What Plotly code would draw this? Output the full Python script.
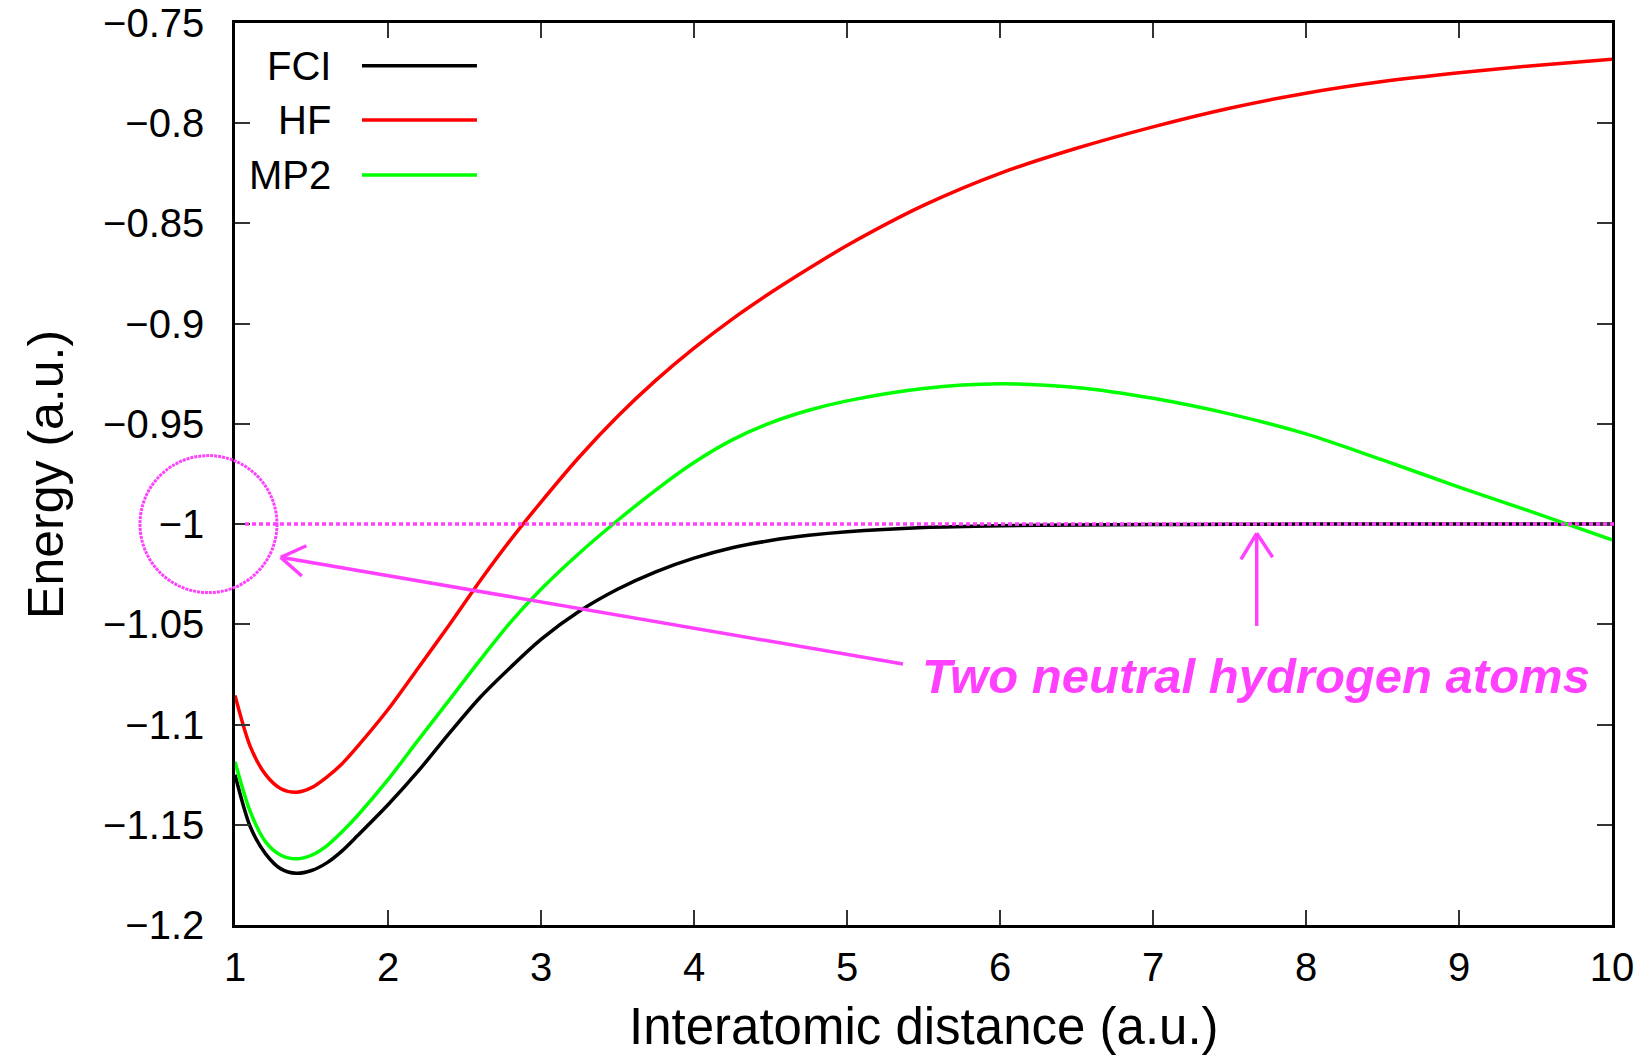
import plotly.graph_objects as go

# ---------------- data ----------------
distance = [1.0, 1.1, 1.2, 1.3, 1.4, 1.5, 1.6, 1.7, 1.8, 2.0, 2.2, 2.4, 2.6, 2.8, 3.0,
            3.25, 3.5, 3.75, 4.0, 4.25, 4.5, 4.75, 5.0, 5.5, 6.0, 6.5, 7.0, 7.5, 8.0,
            8.5, 9.0, 9.5, 10.0]

fci = [-1.1250, -1.1510, -1.1645, -1.1720, -1.1742, -1.1728, -1.1690, -1.1630, -1.1555,
       -1.1400, -1.1230, -1.1044, -1.0866, -1.0715, -1.0575, -1.0435, -1.0325, -1.0238,
       -1.0170, -1.0118, -1.0082, -1.0056, -1.0038, -1.0017, -1.0008, -1.0004, -1.0002,
       -1.0001, -1.0000, -1.0000, -1.0000, -1.0000, -1.0000]

hf = [-1.0855, -1.1110, -1.1250, -1.1320, -1.1338, -1.1315, -1.1262, -1.1195, -1.1110,
      -1.0925, -1.0715, -1.0503, -1.0285, -1.0080, -0.9890, -0.9665, -0.9463, -0.9283,
      -0.9122, -0.8977, -0.8846, -0.8725, -0.8610, -0.8410, -0.8250, -0.8125, -0.8018,
      -0.7925, -0.7850, -0.7792, -0.7748, -0.7712, -0.7681]

mp2 = [-1.1185, -1.1435, -1.1585, -1.1652, -1.1670, -1.1652, -1.1605, -1.1535, -1.1455,
       -1.1275, -1.1075, -1.0878, -1.0680, -1.0490, -1.0325, -1.0145, -0.9982, -0.9830,
       -0.9693, -0.9580, -0.9495, -0.9432, -0.9385, -0.9323, -0.9300, -0.9318, -0.9372,
       -0.9450, -0.9550, -0.9680, -0.9815, -0.9945, -1.0078]

series_names = ["FCI", "HF", "MP2"]
series_values = [fci, hf, mp2]
series_colors = ["#000000", "#ff0000", "#00ff00"]

x_tick_vals = [1, 2, 3, 4, 5, 6, 7, 8, 9, 10]
x_tick_text = ["1", "2", "3", "4", "5", "6", "7", "8", "9", "10"]
y_tick_vals = [-1.2, -1.15, -1.1, -1.05, -1.0, -0.95, -0.9, -0.85, -0.8, -0.75]
y_tick_text = ["\u22121.2", "\u22121.15", "\u22121.1", "\u22121.05", "\u22121",
               "\u22120.95", "\u22120.9", "\u22120.85", "\u22120.8", "\u22120.75"]

x_title = "Interatomic distance (a.u.)"
y_title = "Energy (a.u.)"
note_text = "Two neutral hydrogen atoms"
dissociation_energy = -1.0

# ---------------- figure ----------------
FONT = "Liberation Sans, Arial, Helvetica, sans-serif"
MAGENTA = "#ff40ff"

fig = go.Figure()
for name, vals, color in zip(series_names, series_values, series_colors):
    fig.add_trace(go.Scatter(
        x=distance, y=vals, mode="lines", name=name, showlegend=False,
        line=dict(color=color, width=3.5, shape="spline", smoothing=0.8),
    ))

axis_common = dict(
    showgrid=False, zeroline=False, showline=True, linecolor="#000000", linewidth=2.5,
    mirror="ticks", ticks="inside", ticklen=15, tickwidth=1.5, tickcolor="#333333",
    tickfont=dict(family=FONT, size=40, color="#000000"), automargin=False,
)

fig.update_layout(
    width=1650, height=1060,
    margin=dict(l=235, r=38, t=23, b=135, autoexpand=False),
    plot_bgcolor="#ffffff", paper_bgcolor="#ffffff",
    showlegend=False,
    xaxis=dict(range=[1, 10], tickvals=x_tick_vals, ticktext=x_tick_text,
               ticklabelstandoff=5, **axis_common),
    yaxis=dict(range=[-1.2, -0.75], tickvals=y_tick_vals, ticktext=y_tick_text,
               ticklabelstandoff=20, **axis_common),
)

# axis titles
fig.add_annotation(text=x_title, xref="paper", yref="paper", x=0.5, y=-0.112,
                   xanchor="center", yanchor="middle", showarrow=False,
                   font=dict(family=FONT, size=51, color="#000000"))
fig.add_annotation(text=y_title, xref="paper", yref="paper", x=-0.1373, y=0.5,
                   xanchor="center", yanchor="middle", showarrow=False, textangle=-90,
                   font=dict(family=FONT, size=50, color="#000000"))

# gnuplot-style legend (label right-aligned, then line sample)
legend_rows_y = [0.9527, 0.8925, 0.8315]
for name, color, ly in zip(series_names, series_colors, legend_rows_y):
    fig.add_annotation(text=name, xref="paper", yref="paper", x=0.0712, y=ly,
                       xanchor="right", yanchor="middle", showarrow=False,
                       font=dict(family=FONT, size=40, color="#000000"))
    fig.add_shape(type="line", xref="paper", yref="paper", x0=0.0922, x1=0.1757,
                  y0=ly, y1=ly, line=dict(color=color, width=3.5))

# dotted line at the dissociation limit
fig.add_shape(type="line", xref="paper", yref="y", x0=0.00726, x1=1.0022,
              y0=dissociation_energy, y1=dissociation_energy,
              line=dict(color=MAGENTA, width=3.5, dash="4px,3px"))

# circle around the -1 tick label
fig.add_shape(type="circle", xref="paper", yref="y", x0=-0.069, x1=0.0305,
              y0=-1.03418, y1=-0.96582,
              line=dict(color=MAGENTA, width=3, dash="3px,1px"))

# hand-drawn style arrows (shaft + two arms)
arrow_segments = [
    ((5.366, -1.0698), (1.299, -1.01657)),
    ((1.299, -1.01657), (1.4667, -1.0108)),
    ((1.299, -1.01657), (1.4366, -1.0259)),
    ((7.678, -1.0508), (7.678, -1.0046)),
    ((7.678, -1.0046), (7.575, -1.01756)),
    ((7.678, -1.0046), (7.782, -1.01657)),
]
for (xa, ya), (xb, yb) in arrow_segments:
    fig.add_shape(type="line", xref="x", yref="y", x0=xa, y0=ya, x1=xb, y1=yb,
                  line=dict(color=MAGENTA, width=3.5))

fig.add_annotation(text=note_text, xref="x", yref="y", x=7.673, y=-1.0758,
                   xanchor="center", yanchor="middle", showarrow=False,
                   font=dict(family=FONT, size=49, color=MAGENTA,
                             weight="bold", style="italic"))

fig.write_html("out.html")
